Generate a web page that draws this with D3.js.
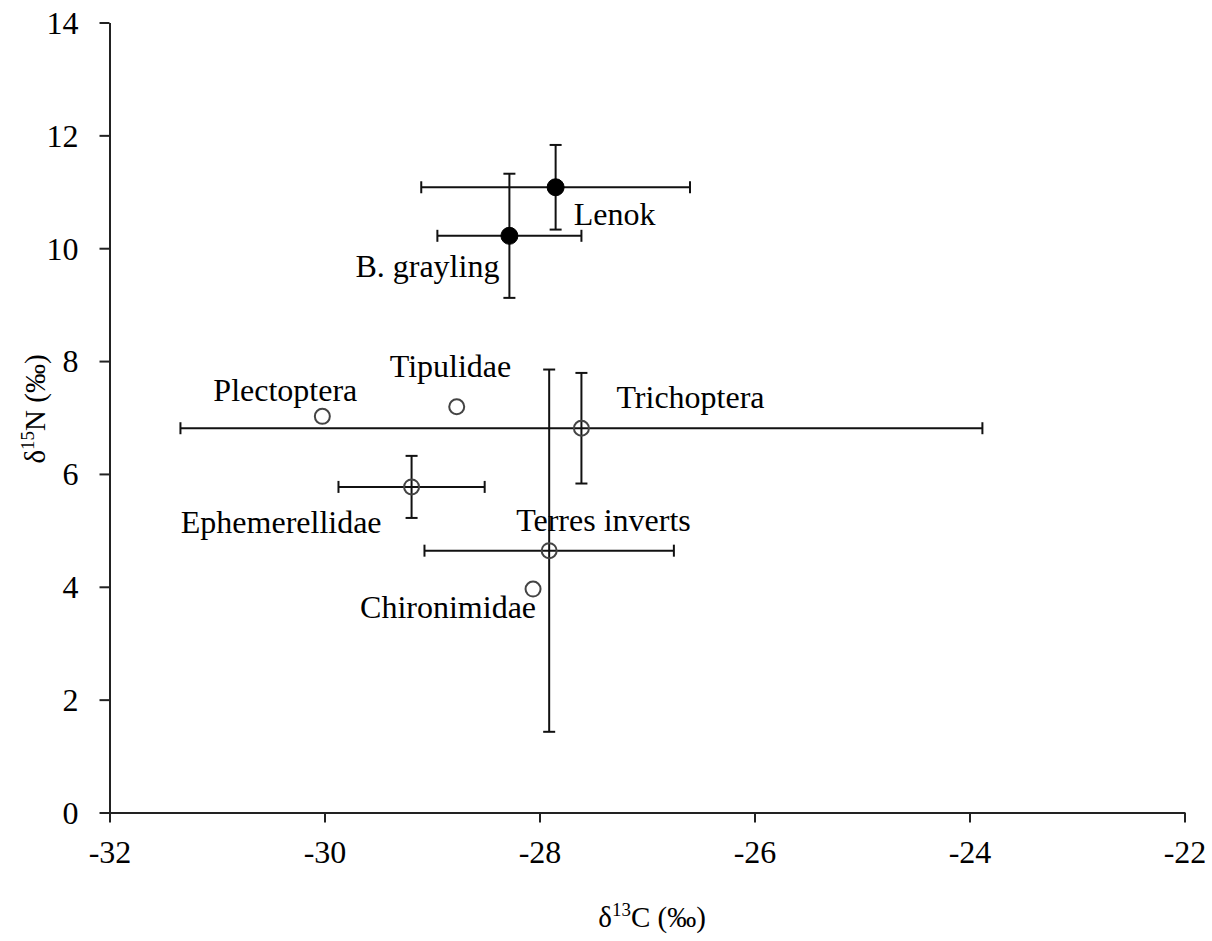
<!DOCTYPE html>
<html>
<head>
<meta charset="utf-8">
<script src="https://cdn.jsdelivr.net/npm/d3@7"></script>
<style>
  html, body { margin: 0; padding: 0; background: #fff; }
  svg { display: block; }
  text { font-family: "Liberation Serif", "Times New Roman", serif; fill: #000; }
</style>
</head>
<body>
<svg id="chart" width="1212" height="941"></svg>
<script>
// ---- data ----
const names   = ["Lenok", "B. grayling", "Plectoptera", "Tipulidae", "Trichoptera", "Ephemerellidae", "Terres inverts", "Chironimidae"];
const d13C    = [-27.85, -28.28, -30.02, -28.77, -27.61, -29.19, -27.91, -28.06];
const d15N    = [11.08, 10.22, 7.02, 7.19, 6.81, 5.77, 4.64, 3.96];
const errC    = [1.25, 0.67, 0, 0, 3.73, 0.68, 1.16, 0];
const errN    = [0.75, 1.10, 0, 0, 0.98, 0.55, 3.21, 0];
const isFish  = [true, true, false, false, false, false, false, false];
const xTicks  = [-32, -30, -28, -26, -24, -22];
const yTicks  = [0, 2, 4, 6, 8, 10, 12, 14];
// label offsets (pixels from point) and anchor
const labelDx = [18, -10, -109, -67, 35, -30, -33, 3];
const labelDy = [38, 41, -15, -30, -20, 46, -20, 29];
const labelAnchor = ["start", "end", "start", "start", "start", "end", "start", "end"];

const svg = d3.select("#chart");
const x = d3.scaleLinear().domain([-32, -22]).range([109.5, 1184.5]);
const y = d3.scaleLinear().domain([0, 14]).range([812.5, 22.5]);

// axes
const xAxis = svg.append("g").attr("transform", `translate(0,${y(0)})`)
  .call(d3.axisBottom(x).tickValues(xTicks).tickFormat(d => String(d)).tickSize(10).tickPadding(10).tickSizeOuter(0));
const yAxis = svg.append("g").attr("transform", `translate(${x(-32)},0)`)
  .call(d3.axisLeft(y).tickValues(yTicks).tickFormat(d => String(d)).tickSize(10).tickPadding(21).tickSizeOuter(0));
[xAxis, yAxis].forEach(g => {
  g.select(".domain").attr("stroke", "#222").attr("stroke-width", 2);
  g.selectAll(".tick line").attr("stroke", "#222").attr("stroke-width", 2);
  g.selectAll(".tick text").attr("font-family", "Liberation Serif, Times New Roman, serif")
    .attr("font-size", 32).attr("fill", "#000");
});
xAxis.selectAll(".tick text").attr("dy", "0.95em");
yAxis.selectAll(".tick text").attr("dy", "0.34em");

const data = names.map((n, i) => ({
  name: n, cx: d13C[i], ny: d15N[i], ec: errC[i], en: errN[i], fish: isFish[i],
  dx: labelDx[i], dy: labelDy[i], anchor: labelAnchor[i]
}));

// error bars
const cap = 6;
const eb = svg.append("g").attr("stroke", "#111").attr("stroke-width", 2).attr("fill", "none");
data.filter(d => d.ec > 0).forEach(d => {
  const x0 = x(d.cx - d.ec), x1 = x(d.cx + d.ec), yy = y(d.ny);
  eb.append("line").attr("x1", x0).attr("x2", x1).attr("y1", yy).attr("y2", yy);
  eb.append("line").attr("x1", x0).attr("x2", x0).attr("y1", yy - cap).attr("y2", yy + cap);
  eb.append("line").attr("x1", x1).attr("x2", x1).attr("y1", yy - cap).attr("y2", yy + cap);
});
data.filter(d => d.en > 0).forEach(d => {
  const y0 = y(d.ny - d.en), y1 = y(d.ny + d.en), xx = x(d.cx);
  eb.append("line").attr("x1", xx).attr("x2", xx).attr("y1", y0).attr("y2", y1);
  eb.append("line").attr("x1", xx - cap).attr("x2", xx + cap).attr("y1", y0).attr("y2", y0);
  eb.append("line").attr("x1", xx - cap).attr("x2", xx + cap).attr("y1", y1).attr("y2", y1);
});

// markers
svg.append("g").selectAll("circle").data(data).join("circle")
  .attr("cx", d => x(d.cx)).attr("cy", d => y(d.ny))
  .attr("r", d => d.fish ? 8.5 : 7.5)
  .attr("fill", d => d.fish ? "#000" : "none")
  .attr("stroke", d => d.fish ? "#000" : "#444")
  .attr("stroke-width", d => d.fish ? 1 : 2);

// point labels
svg.append("g").selectAll("text").data(data).join("text")
  .attr("x", d => x(d.cx) + d.dx).attr("y", d => y(d.ny) + d.dy)
  .attr("text-anchor", d => d.anchor)
  .attr("font-size", 32)
  .text(d => d.name);

// axis titles
const xt = svg.append("text").attr("x", 652).attr("y", 927).attr("text-anchor", "middle").attr("font-size", 29);
xt.append("tspan").text("δ");
xt.append("tspan").attr("font-size", 19).attr("dy", -11).text("13");
xt.append("tspan").attr("dy", 11).text("C (‰)");

const yt = svg.append("text").attr("transform", "translate(45,409) rotate(-90)").attr("text-anchor", "middle").attr("font-size", 29);
yt.append("tspan").text("δ");
yt.append("tspan").attr("font-size", 19).attr("dy", -11).text("15");
yt.append("tspan").attr("dy", 11).text("N (‰)");
</script>
</body>
</html>
